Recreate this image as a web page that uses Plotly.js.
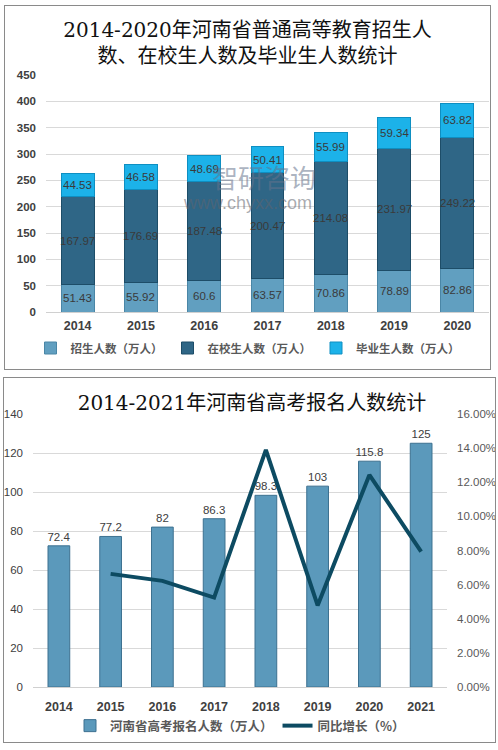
<!DOCTYPE html>
<html>
<head>
<meta charset="utf-8">
<script src="https://cdn.plot.ly/plotly-3.0.1.min.js"></script>
<style>
  html, body { margin: 0; padding: 0; background: #ffffff; width: 498px; height: 750px; overflow: hidden; }
  .panel { position: absolute; border: 1px solid #8a8a8a; background: #ffffff; }
  #top { left: 4px; top: 5px; width: 485px; height: 363px; }
  #bottom { left: 3px; top: 377px; width: 491px; height: 364px; }
</style>
</head>
<body>
<div id="top" class="panel"></div>
<div id="bottom" class="panel"></div>
<script>
// Higher education in Henan, 2014-2020 (10k people)
const years = ['2014', '2015', '2016', '2017', '2018', '2019', '2020'];
const enrolled = [51.43, 55.92, 60.6, 63.57, 70.86, 78.89, 82.86];
const inSchool = [167.97, 176.69, 187.48, 200.47, 214.08, 231.97, 249.22];
const graduates = [44.53, 46.58, 48.69, 50.41, 55.99, 59.34, 63.82];

// Gaokao registrations in Henan, 2014-2021 (10k people) and YoY growth (%)
const examYears = ['2014', '2015', '2016', '2017', '2018', '2019', '2020', '2021'];
const applicants = [72.4, 77.2, 82, 86.3, 98.3, 103, 115.8, 125];
const growthYears = ['2015', '2016', '2017', '2018', '2019', '2020', '2021'];
const growthPct = [6.63, 6.22, 5.24, 13.90, 4.78, 12.43, 7.94];

const SANS = '"Liberation Sans", "Noto Sans CJK SC", sans-serif';
const CJK = '"Noto Sans CJK SC", "Liberation Sans", sans-serif';
const TITLE_FONT = '"DejaVu Serif", "Noto Sans CJK SC", serif';
const config = { staticPlot: true, displayModeBar: false };

// ---------- stacked bars ----------
function stackTrace(name, vals, color, line) {
  return {
    type: 'bar', name: name, x: years, y: vals,
    marker: { color: color, line: { color: line, width: 1 } },
    hoverinfo: 'skip'
  };
}

const topTraces = [
  stackTrace('招生人数（万人）', enrolled, '#619fc0', '#4a86a6'),
  stackTrace('在校生人数（万人）', inSchool, '#2f6686', '#1d4d68'),
  stackTrace('毕业生人数（万人）', graduates, '#1cb2e9', '#0e8fc2')
];

// segment labels centred in each block (x given as category index)
const segLabels = [];
years.forEach((yr, i) => {
  const parts = [enrolled[i], inSchool[i], graduates[i]];
  let base = 0;
  parts.forEach(v => {
    segLabels.push({
      x: i, y: base + v / 2, xref: 'x', yref: 'y',
      text: String(v), showarrow: false,
      font: { family: SANS, size: 11.5, color: '#3a3a3a' }
    });
    base += v;
  });
});

// faint site mark across the middle of the chart
segLabels.push({
  xref: 'paper', yref: 'paper', x: 0.491, y: 0.571, xanchor: 'center', yanchor: 'middle',
  text: '智研咨询', showarrow: false,
  font: { family: CJK, size: 26, color: 'rgba(100,115,140,0.55)' }
});
segLabels.push({
  xref: 'paper', yref: 'paper', x: 0.454, y: 0.459, xanchor: 'center', yanchor: 'middle',
  text: 'www.chyxx.com', showarrow: false,
  font: { family: SANS, size: 18, color: 'rgba(95,100,110,0.55)' }
});

const topLayout = {
  width: 485, height: 363,
  margin: { l: 41, r: 1, t: 69, b: 57 },
  paper_bgcolor: '#ffffff', plot_bgcolor: '#ffffff',
  barmode: 'stack', bargap: 0.48,
  title: {
    text: '2014-2020年河南省普通高等教育招生人<br>数、在校生人数及毕业生人数统计',
    x: 0.5, xanchor: 'center', y: 1 - 31 / 363, yanchor: 'middle', yref: 'container',
    font: { family: TITLE_FONT, size: 20, color: '#111111' }
  },
  xaxis: {
    type: 'category', showgrid: false, zeroline: false,
    showline: false, ticks: '', ticklabelstandoff: 4,
    tickfont: { family: SANS, size: 12.5, color: '#404040', weight: 'bold' }
  },
  yaxis: {
    range: [0, 450], dtick: 50, showgrid: true, gridcolor: '#d9d9d9', gridwidth: 1,
    zeroline: true, zerolinecolor: '#d0d0d0', showline: false, ticks: '',
    ticklabelstandoff: 9,
    tickfont: { family: SANS, size: 11.5, color: '#404040', weight: 'bold' }
  },
  legend: {
    orientation: 'h', xref: 'container', x: 0.5, xanchor: 'center',
    yref: 'container', y: 1 - 342 / 363, yanchor: 'middle',
    font: { family: CJK, size: 11.5, color: '#595959', weight: 'bold' },
    itemwidth: 30, traceorder: 'normal'
  },
  annotations: segLabels,
  showlegend: true
};

Plotly.newPlot('top', topTraces, topLayout, config);

// ---------- bars + growth line ----------
const bottomTraces = [
  {
    type: 'bar', name: '河南省高考报名人数（万人）', x: examYears, y: applicants,
    marker: { color: '#5b99bb', line: { color: '#3d7190', width: 1 } },
    text: applicants.map(String), textposition: 'outside', constraintext: 'none',
    cliponaxis: false,
    textfont: { family: SANS, size: 11.5, color: '#404040' },
    hoverinfo: 'skip'
  },
  {
    type: 'scatter', mode: 'lines', name: '同比增长（%）', x: growthYears, y: growthPct,
    yaxis: 'y2', line: { color: '#0d4b62', width: 4 }, hoverinfo: 'skip'
  }
];

const bottomLayout = {
  width: 491, height: 364,
  margin: { l: 29, r: 48, t: 36, b: 55 },
  paper_bgcolor: '#ffffff', plot_bgcolor: '#ffffff',
  bargap: 0.58,
  title: {
    text: '2014-2021年河南省高考报名人数统计',
    x: 0.505, xanchor: 'center', y: 1 - 25 / 364, yanchor: 'middle', yref: 'container',
    font: { family: TITLE_FONT, size: 20, color: '#111111' }
  },
  xaxis: {
    type: 'category', showgrid: false, zeroline: false, showline: false, ticks: '',
    ticklabelstandoff: 10,
    tickfont: { family: SANS, size: 12.5, color: '#404040', weight: 'bold' }
  },
  yaxis: {
    range: [0, 140], dtick: 20, showgrid: true, gridcolor: '#d9d9d9',
    zeroline: true, zerolinecolor: '#d0d0d0', showline: false, ticks: '',
    ticklabelstandoff: 9,
    tickfont: { family: SANS, size: 11.5, color: '#404040' }
  },
  yaxis2: {
    overlaying: 'y', side: 'right', range: [0, 16], dtick: 2,
    tickformat: '.2f', ticksuffix: '%', showgrid: false, zeroline: false,
    showline: false, ticks: '', ticklabelstandoff: 9,
    tickfont: { family: SANS, size: 11.5, color: '#595959' }
  },
  legend: {
    orientation: 'h', x: 0.5, xanchor: 'center',
    yref: 'container', y: 1 - 348 / 364, yanchor: 'middle',
    font: { family: CJK, size: 12.5, color: '#595959', weight: 'bold' },
    itemwidth: 30, traceorder: 'normal'
  },
  showlegend: true
};

Plotly.newPlot('bottom', bottomTraces, bottomLayout, config);
</script>
</body>
</html>
